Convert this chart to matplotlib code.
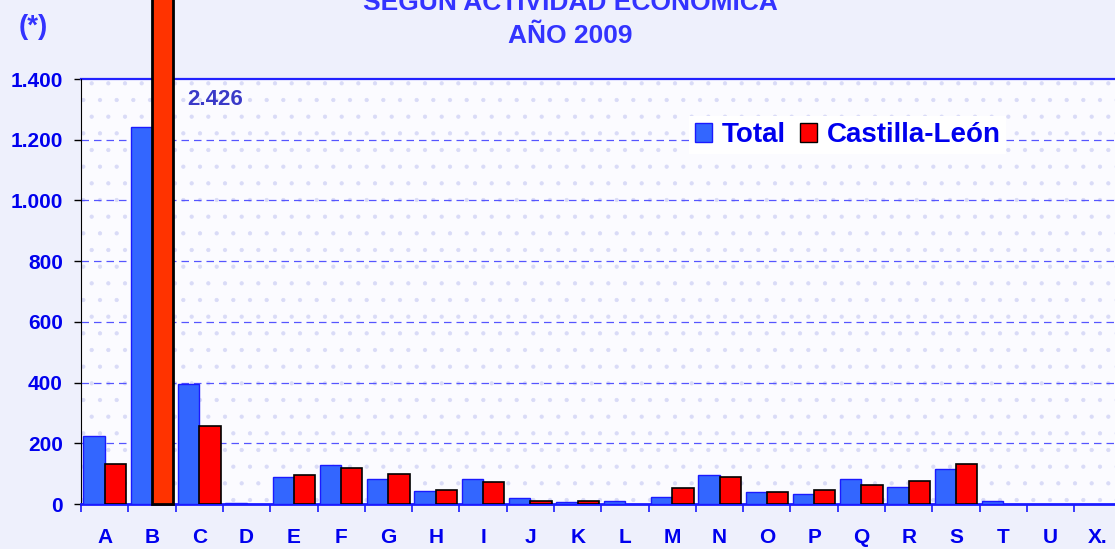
import matplotlib.pyplot as plt
from matplotlib.patches import Rectangle, Patch
import numpy as np

plt.rcParams["font.family"] = ["Liberation Sans", "DejaVu Sans"]

# datos (indice por actividad economica)
categorias = ["A", "B", "C", "D", "E", "F", "G", "H", "I", "J", "K",
              "L", "M", "N", "O", "P", "Q", "R", "S", "T", "U", "X."]
total = [224, 1243, 394, 4, 90, 128, 81, 43, 81, 20, 5,
         10, 24, 95, 38, 33, 82, 57, 115, 10, 0, 0]
castilla_leon = [132, 2426, 257, 0, 95, 119, 99, 47, 71, 10, 10,
                 0, 52, 90, 38, 47, 62, 75, 133, 0, 0, 0]
yticks = [0, 200, 400, 600, 800, 1000, 1200, 1400]

azul = "#3366FF"
rojo = "#FF0000"
texto = "#0000EE"

fig = plt.figure(figsize=(11.15, 5.49), dpi=100)
fig.patch.set_facecolor("#EEF0FC")
W, H = 1115.0, 549.0
ax = fig.add_axes([81 / W, 45 / H, 22 * 47.3 / W, 425 / H])
ax.set_facecolor("#FBFBFF")

# fondo punteado del area de trazado
plt.rcParams["hatch.linewidth"] = 0.6
ax.add_patch(Rectangle((0, 0), 1, 1, transform=ax.transAxes, facecolor="none",
                       edgecolor="#D9DBF7", hatch=".", linewidth=0, zorder=0))

x = np.arange(len(categorias))
w = 0.45
b1 = ax.bar(x - w / 2, total, w, color=azul, edgecolor="#1a1aff", linewidth=1, zorder=3)
bars = ax.bar(x + w / 2, castilla_leon, w, color=rojo, edgecolor="black", linewidth=1.2, zorder=3)
for b in list(b1) + list(bars):
    if b.get_height() == 0:
        b.set_visible(False)
# barra B se sale del grafico
bars[1].set_facecolor("#FF3300")
bars[1].set_linewidth(2)
bars[1].set_clip_on(False)
ax.text(1.75, 1368, "2.426", color="#3A3AC8", fontsize=16,
        fontweight="bold", va="top", ha="left")

ax.set_xlim(-0.5, len(categorias) - 0.5)
ax.set_ylim(0, 1400)
ax.set_yticks(yticks)
ax.set_yticklabels([f"{v:,}".replace(",", ".") for v in yticks],
                   color=texto, fontsize=15, fontweight="bold")
ax.set_xticks(x)
ax.set_xticklabels(categorias, color=texto, fontsize=15, fontweight="bold")
ax.tick_params(axis="x", length=0, pad=17)
ax.set_xticks(np.arange(len(categorias) + 1) - 0.5, minor=True)
ax.tick_params(axis="x", which="minor", length=6, color="#1a1aff", width=1.2)
ax.tick_params(axis="y", length=5, color="black", direction="out", width=1, pad=8)

for v in yticks[1:-1]:
    ax.axhline(v, color="#5555FF", linestyle=(0, (6, 4)), linewidth=0.9, zorder=1)

for s in ["top", "right"]:
    ax.spines[s].set_visible(False)
ax.axhline(1400, color="#2222FF", linewidth=1.6, zorder=2, clip_on=False)
ax.spines["left"].set_color("black")
ax.spines["bottom"].set_color("#1a1aff")
ax.spines["bottom"].set_linewidth(2)

handles = [Patch(facecolor=azul, edgecolor="#1a1aff", label="Total"),
           Patch(facecolor=rojo, edgecolor="black", label="Castilla-León")]
leg = fig.legend(handles=handles, loc="center left", bbox_to_anchor=(689 / W, 1 - 135 / H),
                 ncol=2, frameon=True, fontsize=20, handlelength=0.62, handleheight=0.65,
                 handletextpad=0.35, columnspacing=0.5, borderpad=0.2, borderaxespad=0)
leg.get_frame().set_facecolor("white")
leg.get_frame().set_edgecolor("none")
leg.get_frame().set_alpha(1)
leg.get_frame().set_boxstyle("square", pad=0)
for t in leg.get_texts():
    t.set_color(texto)
    t.set_fontweight("bold")

fig.text(570 / W, 1 - 10 / H, "SEGÚN ACTIVIDAD ECONÓMICA", color="#3333FF",
         fontsize=19, fontweight="bold", ha="center", va="baseline")
fig.text(570 / W, 1 - 43 / H, "AÑO 2009", color="#3333FF",
         fontsize=19, fontweight="bold", ha="center", va="baseline")
fig.text(33 / W, 1 - 27 / H, "(*)", color="#3333FF",
         fontsize=20, fontweight="bold", ha="center", va="center")

fig.savefig("out.png", dpi=100, facecolor=fig.get_facecolor())
